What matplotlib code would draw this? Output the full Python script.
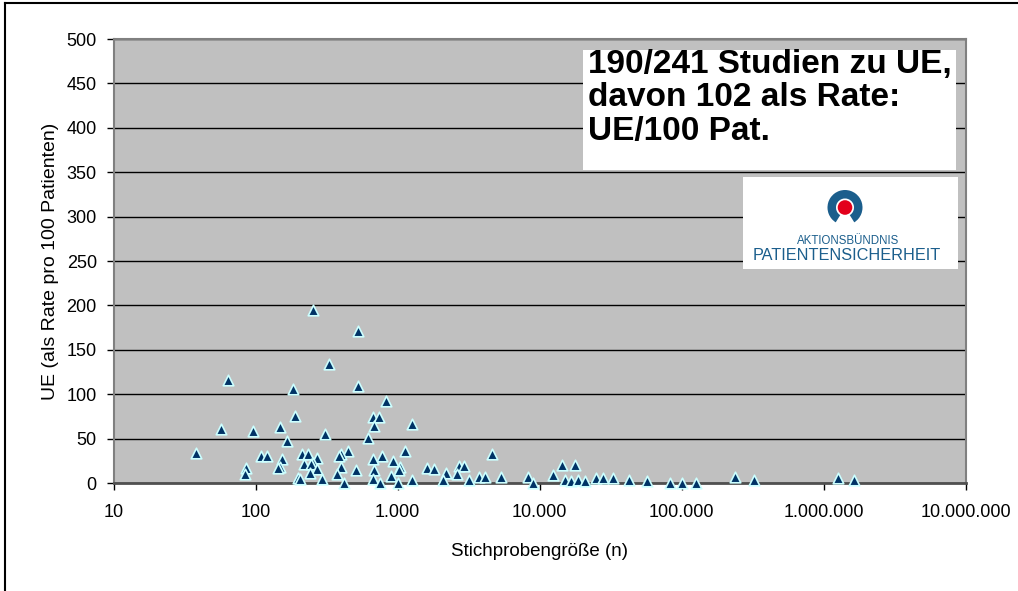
import matplotlib
matplotlib.use("Agg")
import matplotlib.pyplot as plt
from matplotlib.patches import Wedge, Circle, Rectangle
from matplotlib.lines import Line2D
from matplotlib.ticker import FuncFormatter, FixedLocator, NullLocator

# Stichprobengröße (n) und UE-Rate pro 100 Patienten
n_values = [38, 64, 57.5, 96, 149, 185, 190, 166, 86, 84, 109, 120, 153, 149, 145,
            200, 256, 524, 328, 524, 832, 667, 743, 688, 1256, 311, 615, 1127, 445,
            402, 390, 211, 236, 273, 775, 667, 930, 218, 254, 246, 273, 398, 1040,
            1614, 1800, 513, 688, 2180, 2700, 2960, 2620, 241, 375, 906, 1020, 205,
            292, 667, 1256, 2090, 3180, 420, 753, 1010, 4630, 14300, 17700, 3730,
            4100, 5400, 8250, 8950, 12500, 15000, 16600, 18600, 21000, 24900, 27900,
            33000, 42400, 57000, 82900, 101000, 127000, 239000, 323000, 1260000,
            1650000]
ue_rate = [33.4, 116, 60.5, 58.6, 62.7, 105.9, 75.5, 47.3, 17.2, 9.8, 30.4, 30.4,
           26.7, 18.4, 16.6, 5.3, 194.8, 171.5, 134, 109.2, 92.3, 74, 74, 64.2, 66.1,
           54.8, 51, 36, 36, 32.3, 30.4, 32.3, 32.3, 28.5, 30.4, 26.7, 24.8, 21, 22.9,
           21, 15.4, 18.4, 18.4, 17.2, 15.4, 14.6, 14.6, 11.6, 19.1, 19.1, 9.8, 11.6,
           9.8, 7.9, 14.6, 4.8, 4.8, 4.8, 3.4, 3.4, 3.4, 0.3, 0.3, 0.3, 32.3, 20.3,
           20.3, 7.1, 7.1, 7.1, 7.1, 0, 9, 3.4, 2.3, 3.4, 2.3, 5.6, 5.6, 5.6, 3.4, 2.3,
           0.3, 0.3, 0.3, 7.1, 3.4, 5.3, 3.4]

y_ticks = list(range(0, 501, 50))
x_ticks = [10, 100, 1000, 10000, 100000, 1000000, 10000000]
info_lines = ["190/241 Studien zu UE,", "davon 102 als Rate:", "UE/100 Pat."]

plt.rcParams["font.family"] = ["Liberation Sans", "DejaVu Sans"]

W, H = 1018, 591
fig = plt.figure(figsize=(W / 100, H / 100), dpi=100)

# plot area in pixel positions
left, right, top, bottom = 113.5, 965.5, 39, 483
ax = fig.add_axes([left / W, 1 - bottom / H, (right - left) / W, (bottom - top) / H])
ax.set_facecolor("#c0c0c0")
ax.set_xscale("log")
ax.set_xlim(10, 1e7)
ax.set_ylim(0, 500)
ax.xaxis.set_major_locator(FixedLocator(x_ticks))
ax.xaxis.set_minor_locator(NullLocator())
ax.xaxis.set_major_formatter(FuncFormatter(lambda v, p: f"{int(round(v)):,}".replace(",", ".")))
ax.set_yticks(y_ticks)

ax.grid(axis="y", color="black", linewidth=1)
ax.set_axisbelow(True)
for s in ax.spines.values():
    s.set_color("#808080")
    s.set_linewidth(1.5)
ax.spines["bottom"].set_color("#505050")
ax.spines["bottom"].set_linewidth(2)
ax.tick_params(axis="both", direction="out", length=5, width=1, color="black",
               labelsize=13)
ax.tick_params(axis="y", pad=7)
ax.tick_params(axis="x", pad=10)

ax.scatter(n_values, ue_rate, marker="^", s=58, color="#003366",
           edgecolors="#ccffff", linewidths=1.2, zorder=3, clip_on=False)

ax.set_xlabel("Stichprobengröße (n)", fontsize=13.5)
ax.xaxis.set_label_coords(0.5, -0.135)
ax.set_ylabel("UE (als Rate pro 100 Patienten)", fontsize=14)
ax.yaxis.set_label_coords(-0.064, 0.5)

# info box
fig.patches.append(Rectangle((583 / W, 1 - 170 / H), (956 - 583) / W, 120 / H,
                             transform=fig.transFigure, facecolor="white", edgecolor="none",
                             zorder=5))
for line, base in zip(info_lines, [73, 106.5, 140]):
    fig.text(588 / W, 1 - base / H, line, fontsize=24, fontweight="bold",
             va="baseline", ha="left", zorder=6)

# logo
lg = fig.add_axes([743 / W, 1 - 269 / H, 215 / W, 92 / H])
lg.set_xlim(0, 215)
lg.set_ylim(0, 92)
lg.set_facecolor("white")
lg.set_xticks([])
lg.set_yticks([])
for s in lg.spines.values():
    s.set_visible(False)
cx, cy = 845 - 743, 269 - 207.5
lg.add_patch(Wedge((cx, cy), 17.5, -58, 238, width=8.5, facecolor="#1b5e8c", edgecolor="none"))
lg.add_patch(Circle((cx, cy), 7.3, facecolor="#e3001b", edgecolor="none"))
lg.text(848 - 743, 269 - 241, "AKTIONSBÜNDNIS", ha="center", va="center",
        fontsize=8.3, color="#1b5e8c")
lg.text(847 - 743, 269 - 255, "PATIENTENSICHERHEIT", ha="center", va="center",
        fontsize=11.7, color="#1b5e8c")

# outer frame (top and left edges visible)
fig.lines.append(Line2D([5 / W, 1], [1 - 3 / H, 1 - 3 / H], transform=fig.transFigure,
                        color="black", linewidth=1.5))
fig.lines.append(Line2D([5 / W, 5 / W], [0, 1 - 3 / H], transform=fig.transFigure,
                        color="black", linewidth=1.5))

fig.savefig("out.png", dpi=100)
